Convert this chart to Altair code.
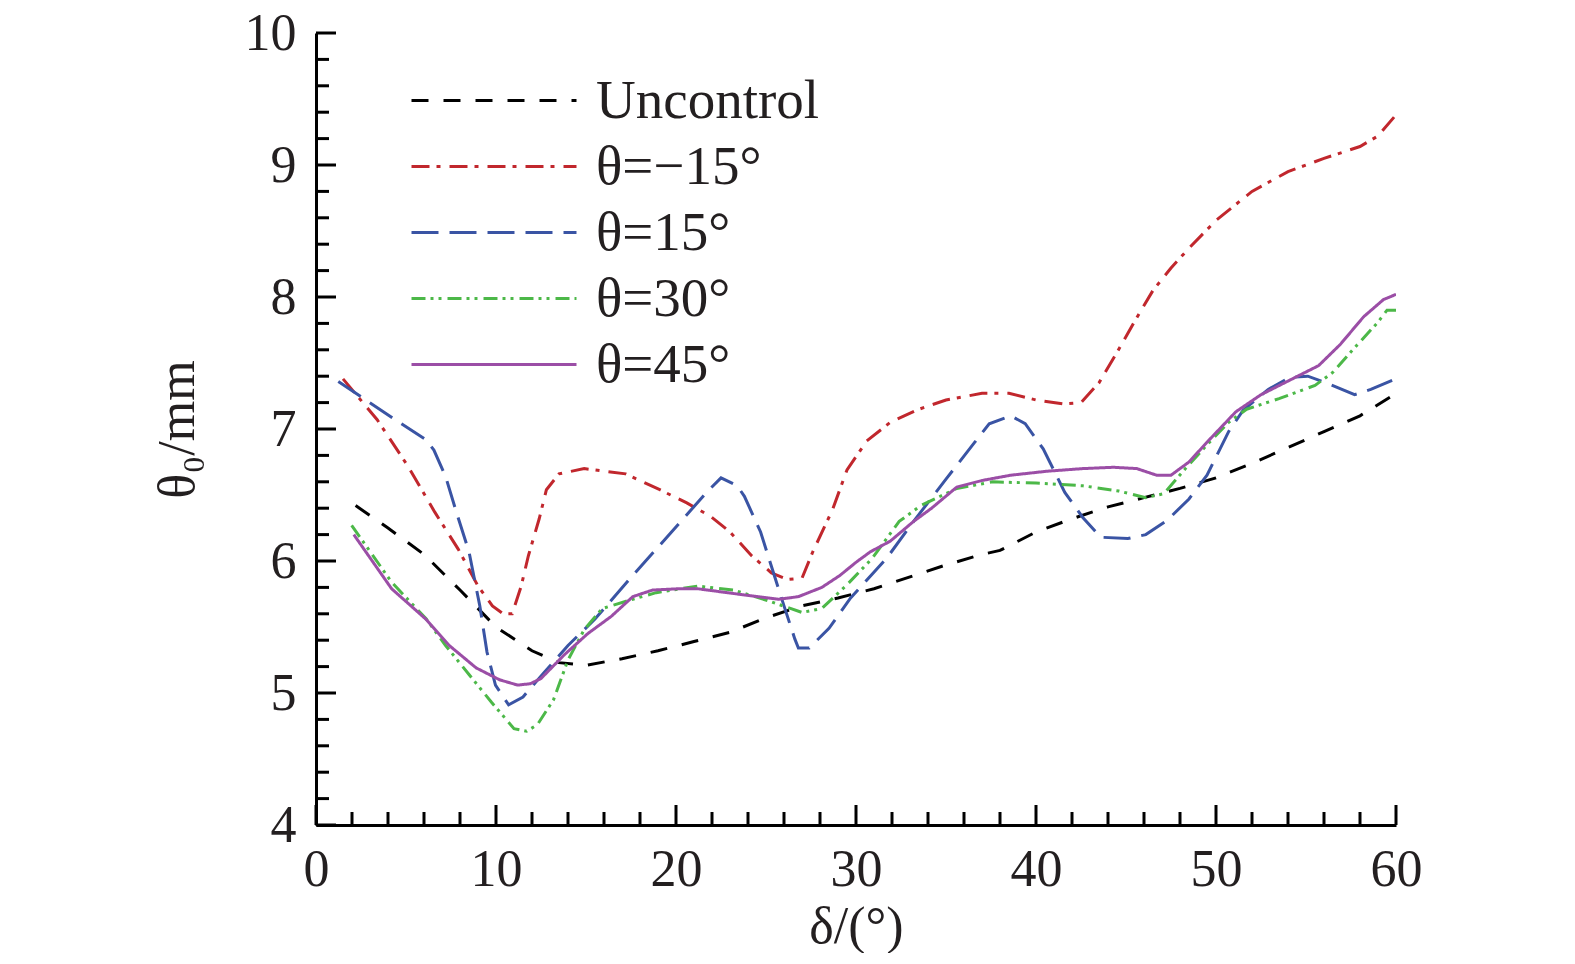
import altair as alt
import pandas as pd

SERIES = ["Uncontrol", "θ=−15°", "θ=15°", "θ=30°", "θ=45°"]
COLORS = ["#000000", "#c1272d", "#3a54a4", "#4cb848", "#9b4ea6"]
DASHES = [[17, 15], [18, 7, 4, 9], [27, 11], [14, 5, 3, 5, 3, 6], [1, 0]]

unc_x = [2.2, 4, 6, 8, 10, 12, 13.5, 15, 17, 19, 21, 23, 25, 27, 29, 31, 33, 35, 37, 38, 40, 42, 44, 46, 48, 50, 52, 54, 56, 58, 60]
unc_y = [6.42, 6.25, 6.05, 5.78, 5.5, 5.32, 5.23, 5.21, 5.26, 5.32, 5.39, 5.46, 5.57, 5.66, 5.72, 5.79, 5.88, 5.97, 6.05, 6.08, 6.22, 6.32, 6.41, 6.48, 6.55, 6.63, 6.74, 6.86, 6.98, 7.1, 7.27]

m15_x = [1.5, 3.4, 5.1, 6.6, 7.9, 9.0, 9.8, 10.4, 10.9, 11.4, 11.8, 12.4, 12.8, 13.5, 14.9, 17.2, 19.1, 20.6, 21.9, 23.0, 24.2, 25.3, 26.2, 27.0, 27.6, 28.7, 29.5, 30.6, 31.9, 33.5, 35, 37, 38.5, 40, 41.5, 42.5, 43.5, 44.5, 45.5, 46.5, 47.5, 48.5, 50, 52, 54, 56, 58, 59, 60]
m15_y = [7.38, 7.07, 6.72, 6.37, 6.09, 5.81, 5.66, 5.6, 5.6, 5.81, 6.04, 6.32, 6.54, 6.66, 6.70, 6.66, 6.54, 6.44, 6.34, 6.22, 6.04, 5.91, 5.86, 5.87, 6.07, 6.39, 6.69, 6.91, 7.05, 7.15, 7.22, 7.27, 7.27, 7.22, 7.19, 7.2, 7.35, 7.58, 7.82, 8.05, 8.22, 8.37, 8.58, 8.8, 8.95, 9.05, 9.14, 9.22, 9.38]

p15_x = [1.24, 4.4, 6.1, 6.55, 7.2, 7.8, 8.5, 9.1, 9.5, 9.97, 10.7, 11.5, 12.7, 14.0, 15.5, 17.4, 19.1, 20.4, 21.7, 22.5, 23.4, 23.8, 24.7, 25.3, 26.0, 26.6, 26.8, 27.4, 28.5, 29.7, 31.7, 33.2, 35, 36.6, 37.4, 38.6, 39.4, 40.4, 41.6, 42.6, 43.6, 45.1, 46.1, 47.3, 48.5, 49.5, 50.7, 51.5, 52.9, 54.1, 55.1, 56.1, 57.7, 58.6, 60]
p15_y = [7.36, 7.07, 6.92, 6.84, 6.64, 6.37, 6.07, 5.66, 5.31, 5.06, 4.91, 4.97, 5.16, 5.36, 5.56, 5.86, 6.12, 6.32, 6.52, 6.63, 6.57, 6.49, 6.22, 5.96, 5.66, 5.41, 5.34, 5.34, 5.49, 5.72, 6.02, 6.3, 6.62, 6.9, 7.04, 7.1, 7.04, 6.85, 6.52, 6.33, 6.18, 6.17, 6.2, 6.31, 6.47, 6.65, 6.98, 7.14, 7.3, 7.39, 7.4, 7.35, 7.26, 7.3, 7.38]

p30_x = [1.98, 4.2, 6.13, 7.2, 8.5, 9.75, 11.0, 11.7, 12.3, 13.2, 14.0, 14.9, 15.9, 17.6, 18.9, 21.2, 23.2, 25.1, 27.0, 28.1, 29.5, 30.9, 32.4, 33.6, 35.6, 37.6, 40, 42.6, 44.6, 46.1, 47.1, 48.3, 49.5, 50.7, 51.7, 53.5, 55.5, 56.5, 57.6, 59, 59.5, 60]
p30_y = [6.27, 5.84, 5.56, 5.36, 5.14, 4.93, 4.73, 4.71, 4.76, 4.95, 5.25, 5.48, 5.64, 5.71, 5.76, 5.81, 5.78, 5.70, 5.61, 5.64, 5.82, 6.02, 6.3, 6.42, 6.55, 6.6, 6.59, 6.57, 6.53, 6.48, 6.51, 6.7, 6.88, 7.05, 7.15, 7.23, 7.33, 7.43, 7.6, 7.81, 7.9, 7.9]

p45_x = [2.1, 4.2, 6.1, 7.4, 8.9, 10.2, 11.2, 11.9, 12.5, 13.8, 15.1, 16.4, 17.6, 18.7, 20.2, 21.2, 23.4, 25.7, 26.8, 28.1, 29.1, 30.0, 30.8, 31.9, 33.2, 34.2, 35.6, 37, 38.6, 40.6, 42.6, 44.3, 45.6, 46.7, 47.5, 48.5, 49.5, 51.1, 52.5, 54.1, 55.7, 56.9, 58.2, 59.3, 60]
p45_y = [6.2, 5.79, 5.56, 5.36, 5.19, 5.1, 5.06, 5.07, 5.11, 5.29, 5.45, 5.58, 5.73, 5.78, 5.79, 5.79, 5.75, 5.71, 5.73, 5.8, 5.89, 5.99, 6.07, 6.15, 6.3, 6.4, 6.56, 6.61, 6.65, 6.68, 6.7, 6.71, 6.7, 6.65, 6.65, 6.75, 6.9, 7.13, 7.26, 7.37, 7.48, 7.64, 7.85, 7.98, 8.02]

X_MAJOR = [0, 10, 20, 30, 40, 50, 60]
X_MINOR = [2, 4, 6, 8, 12, 14, 16, 18, 22, 24, 26, 28, 32, 34, 36, 38, 42, 44, 46, 48, 52, 54, 56, 58]
Y_MAJOR = [4, 5, 6, 7, 8, 9, 10]
Y_MINOR = [4.2, 4.4, 4.6, 4.8, 5.2, 5.4, 5.6, 5.8, 6.2, 6.4, 6.6, 6.8, 7.2, 7.4, 7.6, 7.8, 8.2, 8.4, 8.6, 8.8, 9.2, 9.4, 9.6, 9.8]

rows = []
for name, xs, ys in [(SERIES[0], unc_x, unc_y), (SERIES[1], m15_x, m15_y),
                     (SERIES[2], p15_x, p15_y), (SERIES[3], p30_x, p30_y),
                     (SERIES[4], p45_x, p45_y)]:
    for i, (a, b) in enumerate(zip(xs, ys)):
        rows.append({"series": name, "x": a, "y": b, "order": i})
df = pd.DataFrame(rows)

FONT = "Liberation Serif"
TXT = "#231f20"
W, H = 1080, 792

xscale = alt.Scale(domain=[0, 60], nice=False, zero=False)
yscale = alt.Scale(domain=[4, 10], nice=False, zero=False)

xaxis = alt.Axis(
    values=X_MAJOR, title="δ/(°)", ticks=False, tickSize=0, grid=False,
    domainColor="#000000", domainWidth=3, labelFont=FONT, labelFontSize=52,
    labelColor=TXT, labelPadding=19, titleFont=FONT, titleFontSize=52,
    titleFontWeight="normal", titleColor=TXT, titlePadding=6, labelFlush=False)
yaxis = alt.Axis(
    values=Y_MAJOR, title="θ₀/mm", ticks=False, tickSize=0, grid=False,
    domainColor="#000000", domainWidth=3, labelFont=FONT, labelFontSize=52,
    labelColor=TXT, labelPadding=20, titleFont=FONT, titleFontSize=52,
    titleFontWeight="normal", titleColor=TXT, titlePadding=40, labelFlush=False)

legend = alt.Legend(
    title=None, orient="none", legendX=94, legendY=40,
    symbolType="stroke", symbolSize=165 * 165, symbolStrokeWidth=3,
    clipHeight=55, rowPadding=10, labelFont=FONT, labelFontSize=55,
    labelOffset=18, labelLimit=600, labelColor=TXT,
)

lines = alt.Chart(df).mark_line(strokeWidth=3, clip=True).encode(
    x=alt.X("x:Q", scale=xscale, axis=xaxis),
    y=alt.Y("y:Q", scale=yscale, axis=yaxis),
    color=alt.Color("series:N", scale=alt.Scale(domain=SERIES, range=COLORS), legend=legend),
    strokeDash=alt.StrokeDash("series:N", scale=alt.Scale(domain=SERIES, range=DASHES), legend=legend),
    order="order:Q",
)

def xticks(vals, length):
    return alt.Chart(pd.DataFrame({"x": vals})).mark_rule(color="#000000", strokeWidth=3).encode(
        x=alt.X("x:Q", scale=xscale, axis=xaxis),
        y=alt.value(H), y2=alt.value(H - length))

def yticks(vals, length):
    return alt.Chart(pd.DataFrame({"y": vals})).mark_rule(color="#000000", strokeWidth=3).encode(
        y=alt.Y("y:Q", scale=yscale, axis=yaxis),
        x=alt.value(0), x2=alt.value(length))

chart = alt.layer(
    lines, xticks(X_MAJOR, 20), xticks(X_MINOR, 13), yticks(Y_MAJOR, 20), yticks(Y_MINOR, 13)
).properties(
    width=W, height=H,
    background="white",
    autosize=alt.AutoSizeParams(type="none"),
    padding={"left": 308, "top": 25, "right": 160, "bottom": 128},
).configure_view(strokeOpacity=0, strokeWidth=0)

chart.save("out.html", embed_options={"renderer": "svg", "actions": False})
